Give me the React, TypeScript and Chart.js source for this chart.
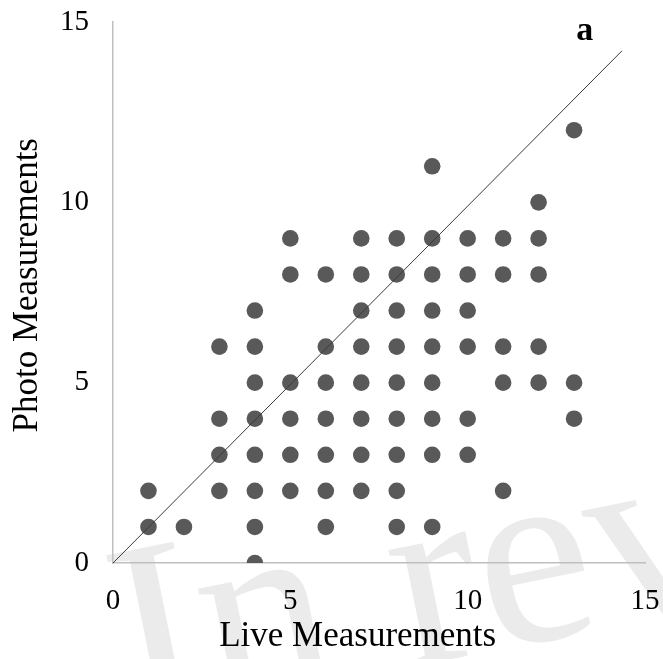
import React, { useEffect, useRef } from "react";
import { Chart, registerables } from "chart.js";

Chart.register(...registerables);

// Paired observations: Live (x) vs Photo (y) measurements
const liveValues = [
  1, 1,
  2,
  3, 3, 3, 3,
  4, 4, 4, 4, 4, 4, 4, 4,
  5, 5, 5, 5, 5, 5,
  6, 6, 6, 6, 6, 6, 6,
  7, 7, 7, 7, 7, 7, 7, 7,
  8, 8, 8, 8, 8, 8, 8, 8, 8,
  9, 9, 9, 9, 9, 9, 9, 9, 9,
  10, 10, 10, 10, 10, 10,
  11, 11, 11, 11, 11,
  12, 12, 12, 12, 12,
  13, 13, 13,
];
const photoValues = [
  1, 2,
  1,
  2, 3, 4, 6,
  0, 1, 2, 3, 4, 5, 6, 7,
  2, 3, 4, 5, 8, 9,
  1, 2, 3, 4, 5, 6, 8,
  2, 3, 4, 5, 6, 7, 8, 9,
  1, 2, 3, 4, 5, 6, 7, 8, 9,
  1, 3, 4, 5, 6, 7, 8, 9, 11,
  3, 4, 6, 7, 8, 9,
  2, 5, 6, 8, 9,
  5, 6, 8, 9, 10,
  4, 5, 12,
];
const identityLineX = [0, 14.35];
const identityLineY = [0, 14.2];
const axisTicks = [0, 5, 10, 15];
const xTitle = "Live Measurements";
const yTitle = "Photo Measurements";
const panelLabel = "a";
const panelLabelPos = { x: 13.3, y: 14.5 };
const watermarkText = "In rev";

const SERIF = "'Liberation Serif', 'Times New Roman', serif";

const watermarkPlugin = {
  id: "watermark",
  beforeDraw(chart: any) {
    const ctx = chart.ctx;
    ctx.save();
    ctx.fillStyle = "#ffffff";
    ctx.fillRect(0, 0, chart.width, chart.height);
    ctx.translate(131, 724);
    ctx.rotate(-0.2);
    ctx.font = `260px ${SERIF}`;
    ctx.fillStyle = "#ebebeb";
    ctx.textAlign = "left";
    ctx.textBaseline = "alphabetic";
    ctx.fillText(watermarkText, 0, 0);
    ctx.restore();
  },
};

const annotationPlugin = {
  id: "annotations",
  afterDraw(chart: any) {
    const ctx = chart.ctx;
    const xs = chart.scales.x;
    const ys = chart.scales.y;
    ctx.save();
    ctx.font = `bold 34px ${SERIF}`;
    ctx.fillStyle = "#000000";
    ctx.textAlign = "center";
    ctx.textBaseline = "alphabetic";
    ctx.fillText(panelLabel, xs.getPixelForValue(panelLabelPos.x), ys.getPixelForValue(panelLabelPos.y));
    ctx.font = `35px ${SERIF}`;
    ctx.fillText(xTitle, xs.getPixelForValue(6.9), 646);
    ctx.translate(37, ys.getPixelForValue(7.7));
    ctx.rotate(-Math.PI / 2);
    ctx.fillText(yTitle, 0, 0);
    ctx.restore();
  },
};

export default function App() {
  const canvasRef = useRef<HTMLCanvasElement | null>(null);

  useEffect(() => {
    document.body.style.margin = "0";
    const canvas = canvasRef.current;
    if (!canvas) return;

    const points = liveValues.map((v, i) => ({ x: v, y: photoValues[i] }));
    const linePoints = identityLineX.map((v, i) => ({ x: v, y: identityLineY[i] }));

    const chart = new Chart(canvas, {
      type: "scatter",
      data: {
        datasets: [
          {
            type: "line",
            label: "1:1",
            data: linePoints,
            borderColor: "#3a3a3a",
            borderWidth: 1,
            pointRadius: 0,
            fill: false,
            order: 0,
          } as any,
          {
            label: "Measurements",
            data: points,
            backgroundColor: "#595959",
            borderWidth: 0,
            pointRadius: 8.3,
            pointHoverRadius: 8.3,
            order: 1,
          },
        ],
      },
      options: {
        responsive: false,
        animation: false,
        layout: { padding: { top: 22, right: 18, left: 0, bottom: 0 } },
        plugins: {
          legend: { display: false },
          tooltip: { enabled: false },
        },
        scales: {
          x: {
            type: "linear",
            min: 0,
            max: 15,
            afterBuildTicks: (scale: any) => {
              scale.ticks = axisTicks.map((v) => ({ value: v }));
            },
            afterFit: (scale: any) => {
              scale.height = 96;
              scale.paddingLeft = 0;
              scale.paddingRight = 0;
            },
            grid: { display: false, drawTicks: false },
            border: { display: true, color: "#bfbfbf", width: 1.5 },
            ticks: {
              padding: 21,
              color: "#000000",
              font: { family: SERIF, size: 29 },
            },
            title: { display: false },
          },
          y: {
            type: "linear",
            min: 0,
            max: 15,
            afterBuildTicks: (scale: any) => {
              scale.ticks = axisTicks.map((v) => ({ value: v }));
            },
            afterFit: (scale: any) => {
              scale.width = 113;
              scale.paddingTop = 0;
              scale.paddingBottom = 0;
            },
            grid: { display: false, drawTicks: false },
            border: { display: true, color: "#bfbfbf", width: 1.5 },
            ticks: {
              padding: 24,
              color: "#000000",
              font: { family: SERIF, size: 29 },
            },
            title: { display: false },
          },
        },
      },
      plugins: [watermarkPlugin, annotationPlugin],
    });

    return () => {
      chart.destroy();
    };
  }, []);

  return (
    <div style={{ width: 663, height: 659 }}>
      <canvas ref={canvasRef} width={663} height={659} style={{ display: "block" }} />
    </div>
  );
}
